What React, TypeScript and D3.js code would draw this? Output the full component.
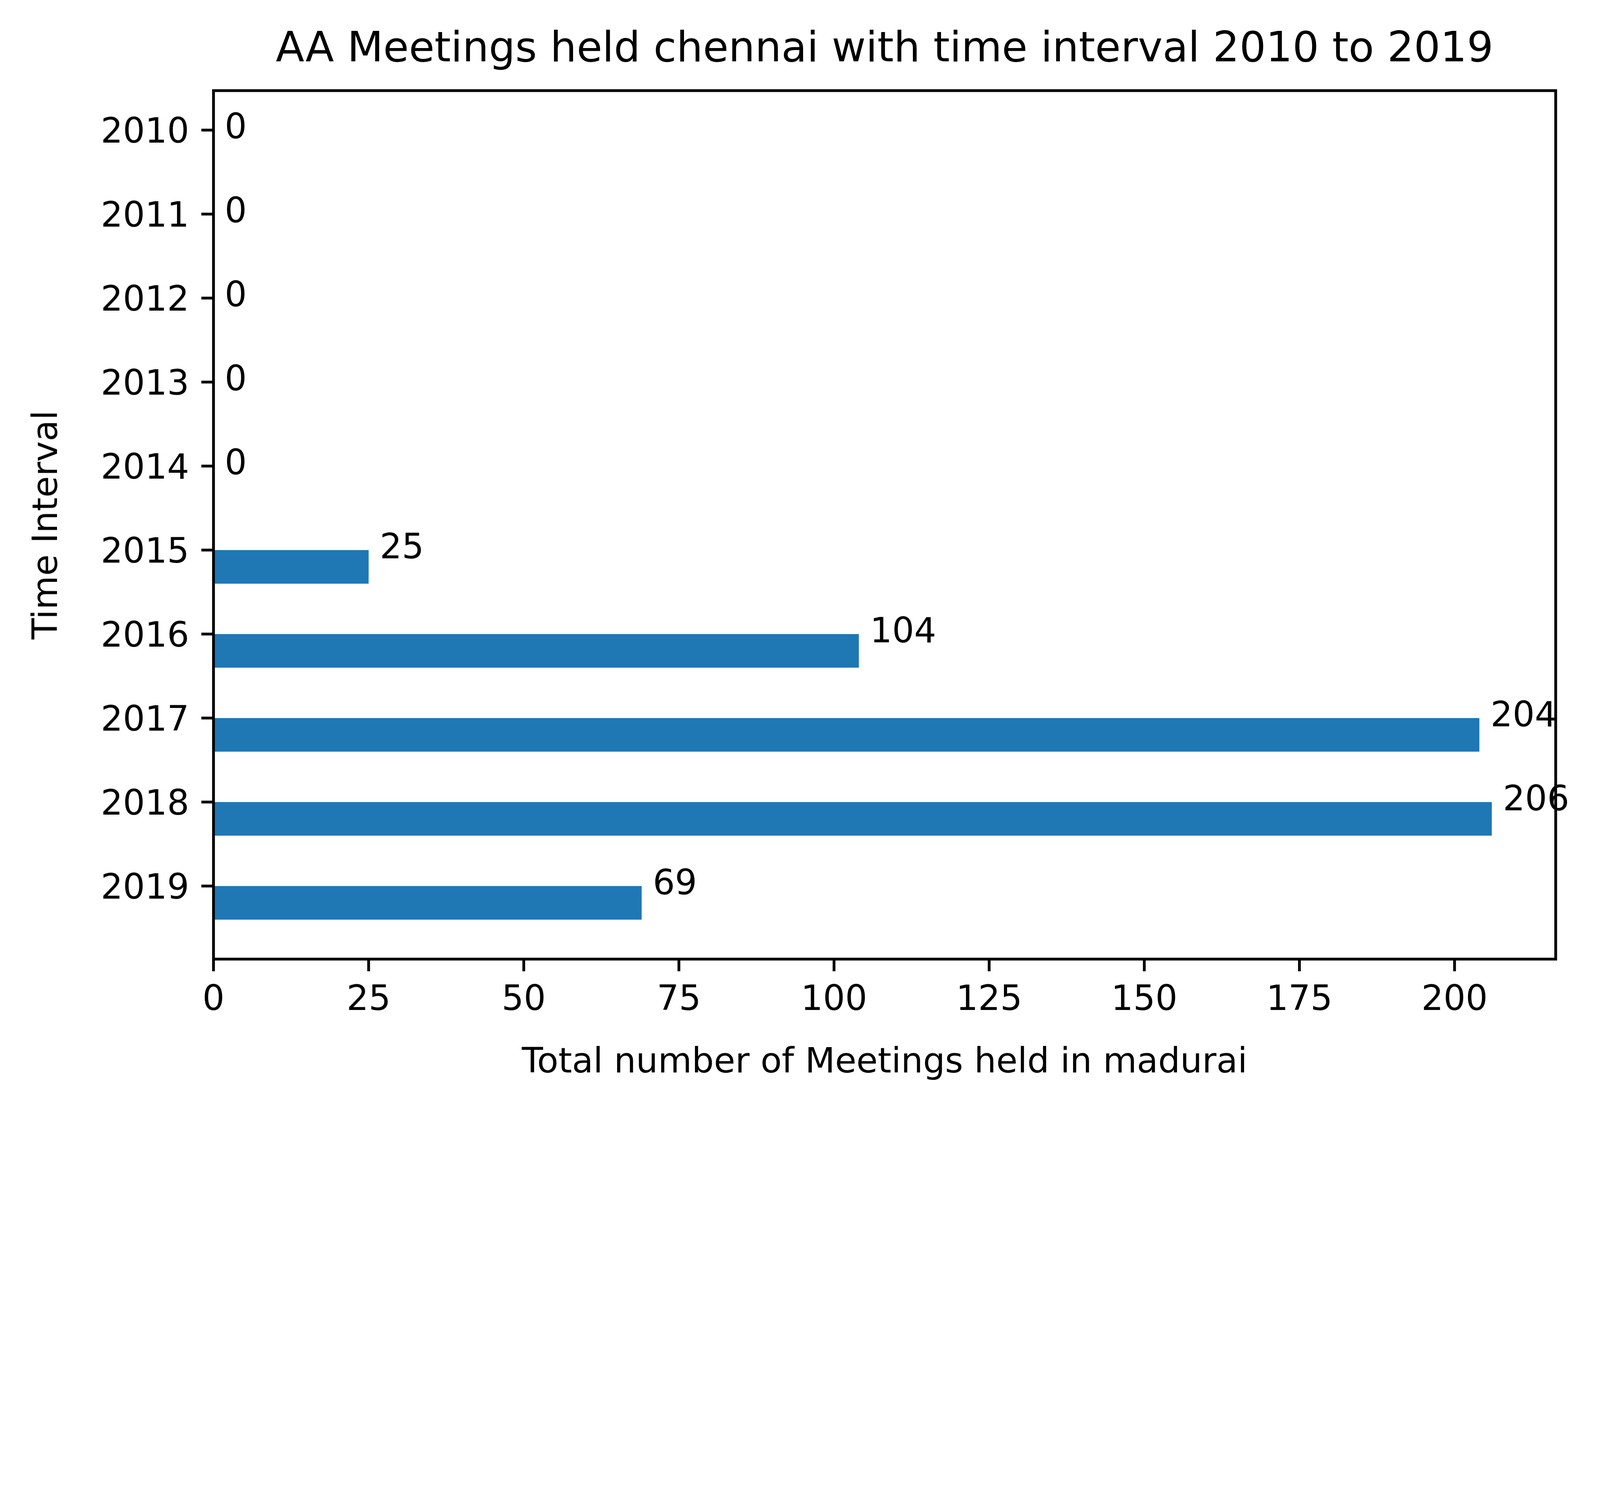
import React from 'react';
import * as d3 from 'd3';

const years = ['2010', '2011', '2012', '2013', '2014', '2015', '2016', '2017', '2018', '2019'];
const meetings = [0, 0, 0, 0, 0, 25, 104, 204, 206, 69];
const xTicks = [0, 25, 50, 75, 100, 125, 150, 175, 200];

const W = 5598;
const H = 3852;
const left = 747;
const right = 5443;
const top = 317;
const bottom = 3355;
const pt = 875 / 72;

export default function App() {
  const x = d3.scaleLinear().domain([0, 206 * 1.05]).range([left, right]);
  const y = d3.scaleLinear().domain([-0.47, 9.87]).range([top, bottom]);
  const tickLen = 3.5 * pt;
  const fs = 10 * pt;
  const lw = 0.8 * pt;

  return (
    <svg
      viewBox={`0 0 ${W} ${H}`}
      preserveAspectRatio="xMinYMin meet"
      style={{ position: 'fixed', left: 0, top: 0, width: '100vw', height: '100vh', display: 'block' }}
      fontFamily="DejaVu Sans, sans-serif"
    >
      <rect width={W} height={H} fill="#fff" />
      {meetings.map((v, i) => (
        <g key={years[i]}>
          <rect x={x(0)} y={y(i)} width={x(v) - x(0)} height={y(i + 0.4) - y(i)} fill="#1f77b4" />
          <text x={x(v + 1.8)} y={y(i + 0.1)} fontSize={fs} fill="#000">{v}</text>
        </g>
      ))}
      {years.map((yr, i) => (
        <g key={'t' + yr}>
          <line x1={left - tickLen} x2={left} y1={y(i)} y2={y(i)} stroke="#000" strokeWidth={lw} />
          <text x={left - tickLen - 3.5 * pt} y={y(i)} dy="0.36em" textAnchor="end" fontSize={fs}>{yr}</text>
        </g>
      ))}
      {xTicks.map(t => (
        <g key={'x' + t}>
          <line x1={x(t)} x2={x(t)} y1={bottom} y2={bottom + tickLen} stroke="#000" strokeWidth={lw} />
          <text x={x(t)} y={bottom + tickLen + 3.5 * pt + fs * 0.76} textAnchor="middle" fontSize={fs}>{t}</text>
        </g>
      ))}
      <rect x={left} y={top} width={right - left} height={bottom - top} fill="none" stroke="#000" strokeWidth={lw} />
      <text x={(left + right) / 2} y={215} textAnchor="middle" fontSize={12 * pt}>
        AA Meetings held chennai with time interval 2010 to 2019
      </text>
      <text x={(left + right) / 2} y={3751} textAnchor="middle" fontSize={fs}>
        Total number of Meetings held in madurai
      </text>
      <text transform={`translate(200,${(top + bottom) / 2}) rotate(-90)`} textAnchor="middle" fontSize={fs}>
        Time Interval
      </text>
    </svg>
  );
}
